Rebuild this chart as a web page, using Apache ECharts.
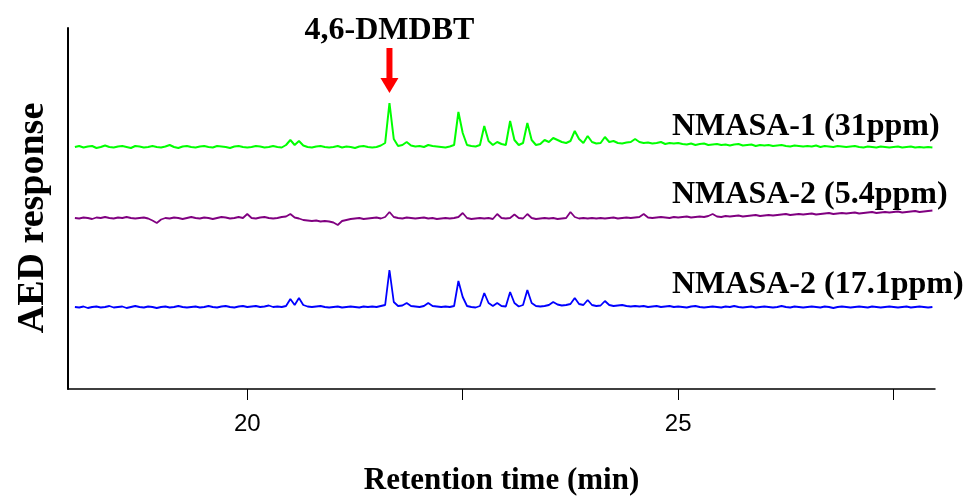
<!DOCTYPE html>
<html>
<head>
<meta charset="utf-8">
<script src="https://cdn.jsdelivr.net/npm/echarts@6/dist/echarts.min.js"></script>
<style>
html,body{margin:0;padding:0;background:#fff;}
#chart{width:967px;height:499px;}
</style>
</head>
<body>
<div id="chart"></div>
<script>
// sampling grid of the detector trace (min)
var timeStart = 18.0;
var timeStep = 0.05;
var pointCount = 200;

// NMASA-1 (31ppm) trace, offset upward
var nmasa1_31 = [
	242, 243, 241.5, 242.5, 243, 241, 242, 243.5, 242, 241.5,
	242.5, 243, 242, 241, 243, 242.5, 241.5, 242, 243, 242,
	241.5, 242.5, 244, 242, 241, 242.5, 243, 242, 241.5, 242.5,
	243, 242, 241.5, 243, 242.5, 242, 241, 242.5, 243, 242,
	241.5, 242, 243, 242.5, 241.5, 242, 243, 242, 241.5, 244,
	249, 244, 248, 243.5, 242, 241.5, 242.5, 243, 242, 241.5,
	242, 243, 241.5, 242.5, 242, 241, 242.5, 243, 242, 241.5,
	242, 243.5, 246, 286, 250, 243, 244, 247, 243.5, 242.5,
	243, 242, 244, 243, 242.5, 242, 241.5, 242.5, 244, 277,
	256, 244, 243, 242.5, 244, 263, 248, 244, 247, 245,
	244, 268, 249, 244, 246, 266, 249, 244, 245, 249,
	247, 251, 249, 247, 246, 248, 258, 250, 246, 253,
	247, 245.5, 246, 252, 247, 248, 246, 245.5, 246.5, 247,
	250, 247, 246, 246.5, 245.5, 246, 247, 245, 246, 245.5,
	246, 245, 244.5, 245.5, 244, 245, 245.5, 244, 244.5, 245,
	244, 244.5, 243.5, 244.5, 245, 243.5, 244, 244.5, 243, 244,
	243.5, 244, 243, 243.5, 244, 243, 242.5, 243.5, 243, 242.5,
	243, 242.5, 243.5, 242, 243, 242.5, 242, 243, 242.5, 242,
	242.5, 243, 242, 241.5, 242.5, 242, 241.5, 242.5, 242, 241.5,
	242, 242.5, 241.5, 242, 242.5, 241.5, 242, 241.5, 242, 241.5
];

// NMASA-2 (5.4ppm) trace
var nmasa2_54 = [
	171, 170.5, 171.5, 171, 170, 171.5, 171, 172, 171, 170.5,
	171.5, 171, 172, 171, 170.5, 171, 171.5, 170.5, 168.5, 166,
	169.5, 171, 170.5, 171.5, 171, 170, 171, 172, 171, 170.5,
	171.5, 171, 170, 171, 172, 171.5, 170.5, 171, 172, 171,
	175, 171, 170.5, 171.5, 172, 171, 170.5, 171, 172, 172.5,
	175, 171.5, 170.5, 169, 168.5, 168, 168.5, 167.5, 168, 167.5,
	166.5, 164, 168, 169, 170, 170.5, 171, 170, 170.5, 171,
	171.5, 170.5, 172, 177, 172, 171, 170.5, 171.5, 171, 170.5,
	171, 171.5, 170.5, 171, 170, 170.5, 171, 170.5, 171, 172,
	176, 171, 170, 170.5, 171, 170.5, 171, 170, 175, 171,
	170.5, 171, 174.5, 171, 170.5, 175, 171, 170, 170.5, 171,
	170.5, 171, 170, 170.5, 171, 177, 172, 170.5, 171, 170.5,
	171, 170.5, 171, 170.5, 171, 171.5, 170.5, 171, 171.5, 171,
	171.5, 172, 175, 171.5, 171, 171.5, 172, 171.5, 171, 172,
	171.5, 172, 172.5, 171.5, 172, 172.5, 172, 173, 175, 172.5,
	172, 173, 172.5, 173, 173.5, 172.5, 173, 173.5, 174, 173,
	173.5, 174, 173.5, 174, 174.5, 175, 174, 174.5, 175, 174.5,
	175, 175.5, 174.5, 175, 175.5, 176, 175, 175.5, 176, 175.5,
	176, 176.5, 175.5, 176, 176.5, 177, 176, 176.5, 177, 176.5,
	177, 177.5, 176.5, 177, 177.5, 178, 177, 177.5, 178, 178.5
];

// NMASA-2 (17.1ppm) trace
var nmasa2_171 = [
	82, 81.5, 82.5, 81, 82, 82.5, 81.5, 82, 83, 81.5,
	82, 82.5, 81, 82, 83, 82, 81.5, 82.5, 82, 81,
	82, 82.5, 81.5, 82, 83, 82, 81.5, 82, 82.5, 81.5,
	82, 83, 82, 81.5, 82.5, 83, 82, 81.5, 82.5, 83,
	82, 82.5, 83, 82, 82.5, 83.5, 82, 82.5, 82, 83,
	90, 84, 91, 84, 82.5, 82, 82.5, 83, 82, 81.5,
	82, 82.5, 81.5, 82, 82.5, 82, 81.5, 82.5, 82, 82.5,
	82, 83, 84, 119, 87, 83, 83.5, 86, 83, 82.5,
	82, 83, 86, 83, 82.5, 82, 82.5, 82, 83, 108,
	92, 83, 82, 81.5, 83, 96, 86, 83, 86, 83,
	82.5, 97, 86, 82.5, 84, 99, 86, 83, 82.5, 83,
	84, 87, 84.5, 83.5, 84, 85, 91, 85, 84, 89,
	84, 83, 83.5, 88, 84, 83, 83.5, 84, 83, 82.5,
	83, 82.5, 83, 82, 82.5, 83, 82, 82.5, 83, 82,
	82.5, 82, 81.5, 82.5, 83, 82, 81.5, 82, 82.5, 82,
	81.5, 82.5, 82, 83, 82, 81.5, 82, 82.5, 81.5, 82,
	82.5, 82, 81.5, 82, 83, 82, 81.5, 82.5, 82, 81.5,
	82, 82.5, 82, 81.5, 82.5, 82, 81, 82, 82.5, 82,
	81.5, 82, 82.5, 82, 81.5, 82.5, 82, 81.5, 82, 82.5,
	82, 81.5, 82, 82.5, 81.5, 82, 82.5, 82, 81.5, 82
];

var tickValues = [20, 22.5, 25, 27.5];
var labelValues = [20, 25];
var traceNames = ['NMASA-1 (31ppm)', 'NMASA-2 (5.4ppm)', 'NMASA-2 (17.1ppm)'];
var peakName = '4,6-DMDBT';
var peakTime = 21.65;

var times = [];
for (var i = 0; i < pointCount; i++) {
	times.push(+(timeStart + timeStep * i).toFixed(2));
}
function pairs(vals) {
	return vals.map(function(v, i) { return [times[i], v]; });
}

var serif = '"Liberation Serif", "Times New Roman", serif';
var chart = echarts.init(document.getElementById('chart'));
var option = {
	animation: false,
	backgroundColor: '#fff',
	grid: { left: 68, right: 32, top: 28, bottom: 110, outerBoundsMode: 'none', containLabel: false },
	xAxis: {
		type: 'value',
		min: 17.92,
		max: 27.98,
		name: 'Retention time (min)',
		nameLocation: 'middle',
		nameGap: 76,
		nameTextStyle: { fontFamily: serif, fontWeight: 'bold', fontSize: 31, color: '#000' },
		axisLine: { lineStyle: { color: '#000', width: 1.5 } },
		axisTick: { show: true, length: 11, customValues: tickValues, lineStyle: { color: '#000', width: 1 } },
		axisLabel: { customValues: labelValues, fontFamily: '"Liberation Sans", Arial, sans-serif', fontSize: 24, color: '#000', margin: 23 },
		splitLine: { show: false }
	},
	yAxis: {
		type: 'value',
		min: 0,
		max: 361,
		axisLine: { show: true, lineStyle: { color: '#000', width: 2 } },
		axisTick: { show: false },
		axisLabel: { show: false },
		splitLine: { show: false }
	},
	series: [
		{ name: traceNames[0], type: 'line', showSymbol: false, data: pairs(nmasa1_31),
		  lineStyle: { color: '#00ff00', width: 2 }, itemStyle: { color: '#00ff00' } },
		{ name: traceNames[1], type: 'line', showSymbol: false, data: pairs(nmasa2_54),
		  lineStyle: { color: '#800080', width: 1.8 }, itemStyle: { color: '#800080' } },
		{ name: traceNames[2], type: 'line', showSymbol: false, data: pairs(nmasa2_171),
		  lineStyle: { color: '#0000ff', width: 1.8 }, itemStyle: { color: '#0000ff' } }
	]
};
chart.setOption(option);

// annotations placed from axis coordinates
var ax = chart.convertToPixel({ xAxisIndex: 0 }, peakTime);
var labelStyle = { fontFamily: serif, fontWeight: 'bold', fontSize: 32, fill: '#000', verticalAlign: 'middle' };
chart.setOption({
	graphic: [
		{ type: 'text', x: ax, y: 31, style: Object.assign({}, labelStyle, { text: peakName, align: 'center' }) },
		{ type: 'rect', shape: { x: ax - 3, y: 48, width: 6, height: 32 }, style: { fill: '#ff0000' } },
		{ type: 'polygon', shape: { points: [[ax - 9, 78], [ax + 9, 78], [ax, 93]] }, style: { fill: '#ff0000' } },
		{ type: 'text', x: 672, y: 127, style: Object.assign({}, labelStyle, { text: traceNames[0] }) },
		{ type: 'text', x: 672, y: 195, style: Object.assign({}, labelStyle, { text: traceNames[1] }) },
		{ type: 'text', x: 672, y: 285, style: Object.assign({}, labelStyle, { text: traceNames[2] }) },
		{ type: 'text', x: 33, y: 218, rotation: Math.PI / 2,
		  style: { text: 'AED response', fontFamily: serif, fontWeight: 'bold', fontSize: 38, fill: '#000', align: 'center', verticalAlign: 'middle' } }
	]
});
</script>
</body>
</html>
